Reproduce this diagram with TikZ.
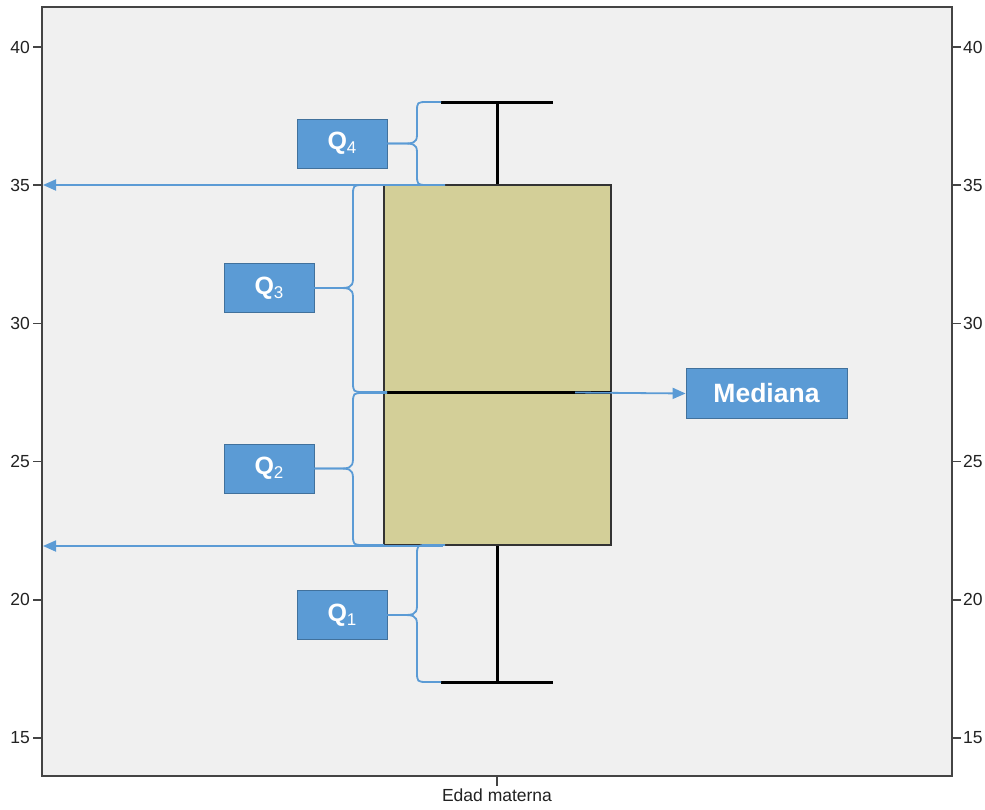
\documentclass[tikz,border=0pt]{standalone}
\usepackage{fontspec}
\setmainfont{Liberation Sans}
\usetikzlibrary{arrows.meta}
\definecolor{qblue}{HTML}{5B9BD5}
\definecolor{qborder}{HTML}{41719C}
\definecolor{boxfill}{HTML}{D3CF98}
\definecolor{plotbg}{HTML}{F0F0F0}
\definecolor{framec}{HTML}{444444}
\definecolor{ticktext}{HTML}{222222}
\begin{document}
\begin{tikzpicture}[x=1pt,y=-1pt,
  qbox/.style={draw=qborder, fill=qblue, line width=0.8pt, text=white,
    font=\bfseries\fontsize{25}{25}\selectfont, minimum width=90pt, minimum height=49pt, inner sep=0pt},
  bracepath/.style={draw=qblue, line width=1.8pt},
  leftarrow/.style={draw=qblue, line width=1.8pt, -{Triangle[length=13pt,width=11pt]}},
  ticklabel/.style={font=\fontsize{17.5}{17.5}\selectfont, text=ticktext, inner sep=0pt},
  tickline/.style={draw=framec, line width=1.6pt},
  blackline/.style={draw=black, line width=3pt}]
\useasboundingbox (0,0) rectangle (985,809);
\fill[white] (0,0) rectangle (985,809);
% plot area
\fill[plotbg] (42,7) rectangle (952,776);
\draw[framec, line width=1.8pt] (42,7) rectangle (952,776);
% y ticks
\foreach \v/\yy in {40/47,35/185.2,30/323.4,25/461.6,20/599.8,15/738}{
  \draw[tickline] (33,\yy) -- (42,\yy);
  \draw[tickline] (952,\yy) -- (961,\yy);
  \node[ticklabel, anchor=east] (ly\v) at (30,\yy) {\v};
  \node[ticklabel, anchor=west] (ry\v) at (963,\yy) {\v};
}
% x tick
\draw[tickline] (497,776) -- (497,786);
\node[ticklabel, anchor=north] (xlab) at (497,789) {Edad materna};
% box plot
\coordinate (wtop) at (497,102);
\coordinate (wbot) at (497,682);
\draw[blackline] (wtop) -- (497,185);
\draw[blackline] (497,545) -- (wbot);
\draw[blackline] (441,102) -- (553,102);
\draw[blackline] (441,682) -- (553,682);
\draw[fill=boxfill, draw=black!80, line width=2pt] (384,185) rectangle (611,545);
\draw[blackline] (384,392.5) -- (611,392.5);
% labels
\node[qbox] (q4) at (342,143.5) {Q\raisebox{-4pt}{\mdseries\fontsize{17}{17}\selectfont 4}};
\node[qbox] (q3) at (269,288) {Q\raisebox{-4pt}{\mdseries\fontsize{17}{17}\selectfont 3}};
\node[qbox] (q2) at (269,468.5) {Q\raisebox{-4pt}{\mdseries\fontsize{17}{17}\selectfont 2}};
\node[qbox] (q1) at (342,615) {Q\raisebox{-4pt}{\mdseries\fontsize{17}{17}\selectfont 1}};
\node[qbox, minimum width=161pt, minimum height=50pt, font=\bfseries\fontsize{26.5}{26.5}\selectfont] (med) at (766.5,393.5) {Mediana};
% brace end points
\coordinate (b4a) at (441,102);
\coordinate (b4b) at (445,185);
\coordinate (b3a) at (384,185);
\coordinate (b3b) at (387,392);
\coordinate (b2a) at (387,393);
\coordinate (b2b) at (384,545);
\coordinate (b1a) at (445,545);
\coordinate (b1b) at (441,682);
% Q4 brace
\draw[bracepath] (b4a) -- (428,102) .. controls (417,102) .. (417,112) -- (417,135)
  .. controls (417,143.5) and (412,143.5) .. (402,143.5) -- (q4.east);
\draw[bracepath] (q4.east) -- (402,143.5) .. controls (412,143.5) and (417,143.5) .. (417,152)
  -- (417,174) .. controls (417,185) .. (428,185) -- (b4b);
% Q3 brace
\draw[bracepath] (b3a) -- (364,185) .. controls (353,185) .. (353,196) -- (353,279)
  .. controls (353,288) and (348,288) .. (338,288) -- (q3.east);
\draw[bracepath] (q3.east) -- (338,288) .. controls (348,288) and (353,288) .. (353,297)
  -- (353,381) .. controls (353,392) .. (364,392) -- (b3b);
% Q2 brace
\draw[bracepath] (b2a) -- (364,393) .. controls (353,393) .. (353,404) -- (353,459)
  .. controls (353,468.5) and (348,468.5) .. (338,468.5) -- (q2.east);
\draw[bracepath] (q2.east) -- (338,468.5) .. controls (348,468.5) and (353,468.5) .. (353,478)
  -- (353,534) .. controls (353,545) .. (364,545) -- (b2b);
% Q1 brace
\draw[bracepath] (b1a) -- (428,545) .. controls (417,545) .. (417,556) -- (417,606)
  .. controls (417,615) and (412,615) .. (402,615) -- (q1.east);
\draw[bracepath] (q1.east) -- (402,615) .. controls (412,615) and (417,615) .. (417,624)
  -- (417,671) .. controls (417,682) .. (428,682) -- (b1b);
% arrows to axis
\coordinate (a35) at (443,185);
\coordinate (l35) at (43,185);
\coordinate (a22) at (443,546);
\coordinate (l22) at (43,546);
\draw[leftarrow] (a35) -- (l35);
\draw[leftarrow] (a22) -- (l22);
% median arrow
\coordinate (mstart) at (575,392.5);
\draw[leftarrow] (mstart) -- (med.west);
\end{tikzpicture}
\end{document}
